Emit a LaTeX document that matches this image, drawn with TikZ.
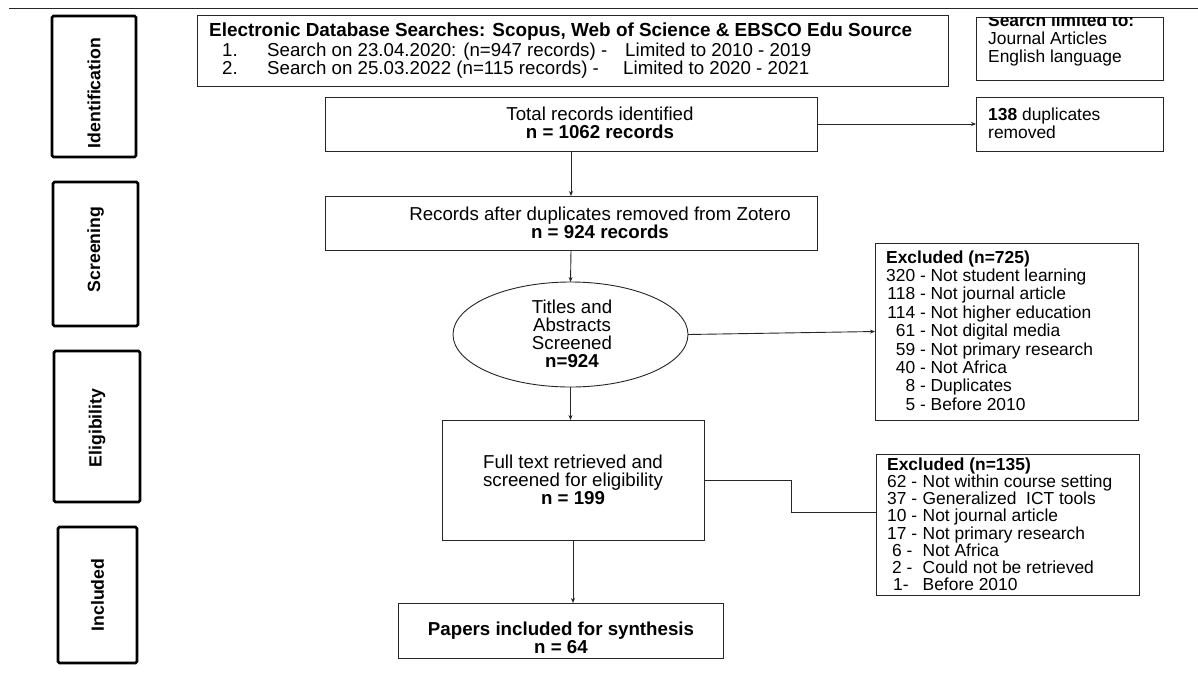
\documentclass[tikz,border=0pt]{standalone}
\usepackage{fontspec}
\setmainfont{Liberation Sans}
\usetikzlibrary{shapes.geometric,arrows.meta}
\newcommand\nb[1]{\makebox[29pt][r]{#1}}
\newcommand\nc[1]{\makebox[35.5pt][l]{#1}}
\begin{document}
\begin{tikzpicture}[x=1pt,y=-1pt,
 box/.style={draw=black!85, line width=0.9pt, inner sep=0pt, outer sep=0pt},
 phase/.style={draw=black, line width=2.6pt, rounded corners=1.5pt, rotate=90, inner sep=0pt, font=\fontsize{17.7}{18}\selectfont\bfseries},
 main/.style={inner sep=0pt, anchor=base, font=\fontsize{18.7}{18}\selectfont},
 side/.style={inner sep=0pt, anchor=base west, font=\fontsize{17.4}{18}\selectfont},
 ln/.style={draw=black!85, line width=0.9pt},
 arr/.style={ln, -{Stealth[length=5pt,width=4pt]}}]

\useasboundingbox (0,0) rectangle (1198,673);
\fill[white] (0,0) rectangle (1198,673);

% top rule
\draw[ln] (9,8) -- (1198,8);

% phase labels
\node[phase, minimum width=141, minimum height=84] (pid) at (94,86.5) {Identification\hspace*{13pt}};
\node[phase, minimum width=144, minimum height=85] (pscr) at (95.5,254) {\hspace*{9pt}Screening};
\node[phase, minimum width=151, minimum height=86] (pel) at (97,426.5) {Eligibility\hspace*{3pt}};
\node[phase, minimum width=136, minimum height=79] (pinc) at (97.5,595) {Included};

% database box
\node[box, minimum width=751, minimum height=71] (db) at (572.5,50.5) {};
\node[main, anchor=base west, font=\fontsize{18.9}{18}\selectfont\bfseries] (dbt) at (209,36.7) {Electronic Database Searches: Scopus, Web of Science \& EBSCO Edu Source};
\node[main, anchor=base west] (db1n) at (222,56) {1.};
\node[main, anchor=base west] (db1s) at (267,56) {Search on 23.04.2020: (n=947 records) -};
\node[main, anchor=base west] (db1l) at (625,56) {Limited to 2010 - 2019};
\node[main, anchor=base west] (db2n) at (222,74) {2.};
\node[main, anchor=base west] (db2s) at (267,74) {Search on 25.03.2022 (n=115 records) -};
\node[main, anchor=base west] (db2l) at (623,74) {Limited to 2020 - 2021};

% search limited box
\node[box, minimum width=187, minimum height=63] (lim) at (1069.5,48.5) {};
\begin{scope}
\path[clip] (lim.north west) rectangle (lim.south east);
\node[side] (limt) at (988,26.7) {\parbox[t]{170pt}{\textbf{Search limited to:}\\Journal Articles\\English language}};
\end{scope}

% total records
\node[box, minimum width=492, minimum height=54] (total) at (571,124) {};
\node[main] (totalt) at (600,120) {\parbox[t]{300pt}{\centering Total records identified\\\textbf{n = 1062 records}}};

% duplicates
\node[box, minimum width=187, minimum height=54] (dup) at (1069.5,124) {};
\node[side] (dupt) at (988,120.7) {\parbox[t]{170pt}{\textbf{138} duplicates\\removed}};

% records after duplicates
\node[box, minimum width=492, minimum height=54] (records) at (571,223) {};
\node[main] (recordst) at (600,220.5) {\parbox[t]{420pt}{\centering Records after duplicates removed from Zotero\\\textbf{n = 924 records}}};

% ellipse
\node[box, ellipse, minimum width=235, minimum height=105] (ell) at (570.5,334.5) {};
\node[main] (ellt) at (572,313.3) {\parbox[t]{200pt}{\centering Titles and\\Abstracts\\Screened\\\textbf{n=924}}};

% excluded 725
\node[box, minimum width=263, minimum height=177] (excl1) at (1006.5,331.5) {};
\node[side, font=\fontsize{17.4}{18.4}\selectfont] (excl1t) at (886,263) {\parbox[t]{245pt}{\textbf{Excluded (n=725)}\\
\nb{320} - Not student learning\\
\nb{118} - Not journal article\\
\nb{114} - Not higher education\\
\nb{61} - Not digital media\\
\nb{59} - Not primary research\\
\nb{40} - Not Africa\\
\nb{8} - Duplicates\\
\nb{5} - Before 2010}};

% full text
\node[box, minimum width=262, minimum height=120] (full) at (573,480) {};
\node[main] (fullt) at (573,468.3) {\parbox[t]{250pt}{\centering Full text retrieved and\\screened for eligibility\\\textbf{n = 199}}};

% excluded 135
\node[box, minimum width=263, minimum height=141] (excl2) at (1007.5,524.5) {};
\node[side, font=\fontsize{17.4}{17.25}\selectfont] (excl2t) at (887,470) {\parbox[t]{245pt}{\textbf{Excluded (n=135)}\\
\nc{62 -}Not within course setting\\
\nc{37 -}Generalized\ \ ICT tools\\
\nc{10 -}Not journal article\\
\nc{17 -}Not primary research\\
\nc{\hspace{5pt}6 -}Not Africa\\
\nc{\hspace{5pt}2 -}Could not be retrieved\\
\nc{\hspace{6pt}1-}Before 2010}};

% papers included
\node[box, minimum width=325, minimum height=55] (papers) at (560.5,630.5) {};
\node[main] (paperst) at (561,635) {\parbox[t]{310pt}{\centering\bfseries Papers included for synthesis\\n = 64}};

% connectors
\draw[arr] (total.east) -- (dup.west);
\draw[arr] (total.south) -- (records.north);
\draw[arr] (records.south) -- (ell.north);
\draw[arr] (ell.east) -- (excl1.west);
\draw[arr] (ell.south) -- (ell.south |- full.north);
\draw[ln] (full.east) -- ++(87,0) |- ([yshift=12.5pt]excl2.west);
\draw[arr] (full.south) -- (full.south |- papers.north);
\end{tikzpicture}
\end{document}
